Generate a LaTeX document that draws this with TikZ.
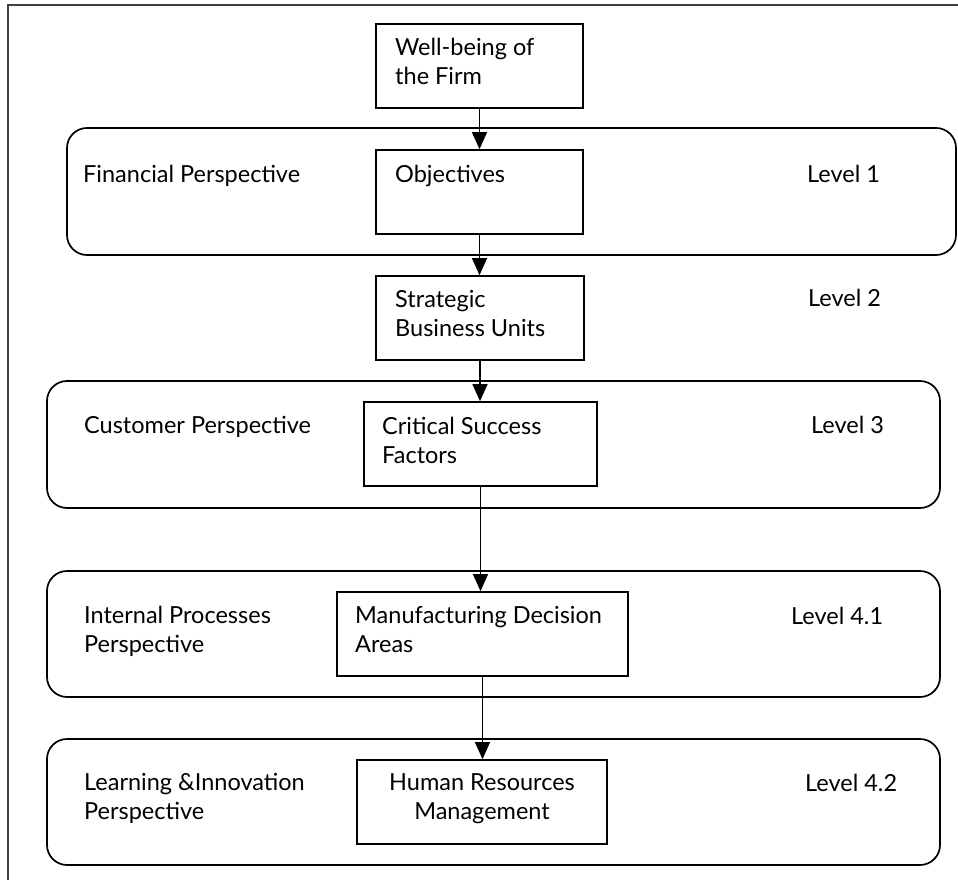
\documentclass[tikz,border=0pt]{standalone}
\usepackage{fontspec}
\setmainfont{Lato}
\usetikzlibrary{arrows.meta}
\begin{document}
\begin{tikzpicture}[x=1pt,y=-1pt,
  panel/.style={draw, line width=1.7pt, rounded corners=20pt, inner sep=0pt},
  box/.style={draw, line width=1.7pt, inner sep=0pt, minimum height=84pt},
  txt/.style={anchor=base west, inner sep=0pt, align=left, font=\fontsize{23.5}{29}\selectfont},
  link/.style={line width=1.2pt, -{Triangle[length=17pt,width=15pt]}}]
\useasboundingbox (0,0) rectangle (958,880);

% outer frame
\draw[line width=1.6pt, black!75] (8,890) -- (8,5) -- (970,5);

% perspective panels
\node[panel, minimum width=889pt, minimum height=127pt] (fin) at (511.5,191.5) {};
\node[panel, minimum width=893pt, minimum height=127pt] (cus) at (493.5,444.5) {};
\node[panel, minimum width=893pt, minimum height=126pt] (int) at (493.5,634) {};
\node[panel, minimum width=893pt, minimum height=126pt] (lrn) at (493.5,802) {};

% boxes of the hierarchy
\node[box, minimum width=207pt] (wb)  at (479.5,66)  {};
\node[box, minimum width=207pt] (obj) at (479.5,192) {};
\node[box, minimum width=208pt] (sbu) at (480,318)   {};
\node[box, minimum width=233pt] (csf) at (480.5,444) {};
\node[box, minimum width=291pt] (mda) at (482.5,634) {};
\node[box, minimum width=250pt] (hrm) at (482,802)   {};

% connectors
\draw[link] (wb.south)  -- (wb.south |- obj.north);
\draw[link] (obj.south) -- (obj.south |- sbu.north);
\draw[link] (sbu.south) -- (sbu.south |- csf.north);
\draw[link] (csf.south) -- (csf.south |- mda.north);
\draw[link] (mda.south) -- (mda.south |- hrm.north);

% box texts (multi-line nodes sit on the baseline of their last line)
\node[txt] (twb)  at (395,85)  {Well-being of\\the Firm};
\node[txt] (tobj) at (395,182) {Objectives};
\node[txt] (tsbu) at (395,336) {Strategic\\Business Units};
\node[txt] (tcsf) at (382,463) {Critical Success\\Factors};
\node[txt] (tmda) at (355,652) {Manufacturing Decision\\Areas};
\node[txt, align=center, anchor=base] (thrm) at (482,819) {Human Resources\\Management};

% panel texts
\node[txt] (tfin) at (83,182) {Financial Perspective};
\node[txt] (tcus) at (84,433) {Customer Perspective};
\node[txt] (tint) at (84,652) {Internal Processes\\Perspective};
\node[txt] (tlrn) at (84,819) {Learning \&Innovation\\Perspective};

% level labels
\node[txt] (l1)  at (807,182) {Level 1};
\node[txt] (l2)  at (808,306) {Level 2};
\node[txt] (l3)  at (811,433) {Level 3};
\node[txt] (l41) at (791,624) {Level 4.1};
\node[txt] (l42) at (805,791) {Level 4.2};
\end{tikzpicture}
\end{document}
